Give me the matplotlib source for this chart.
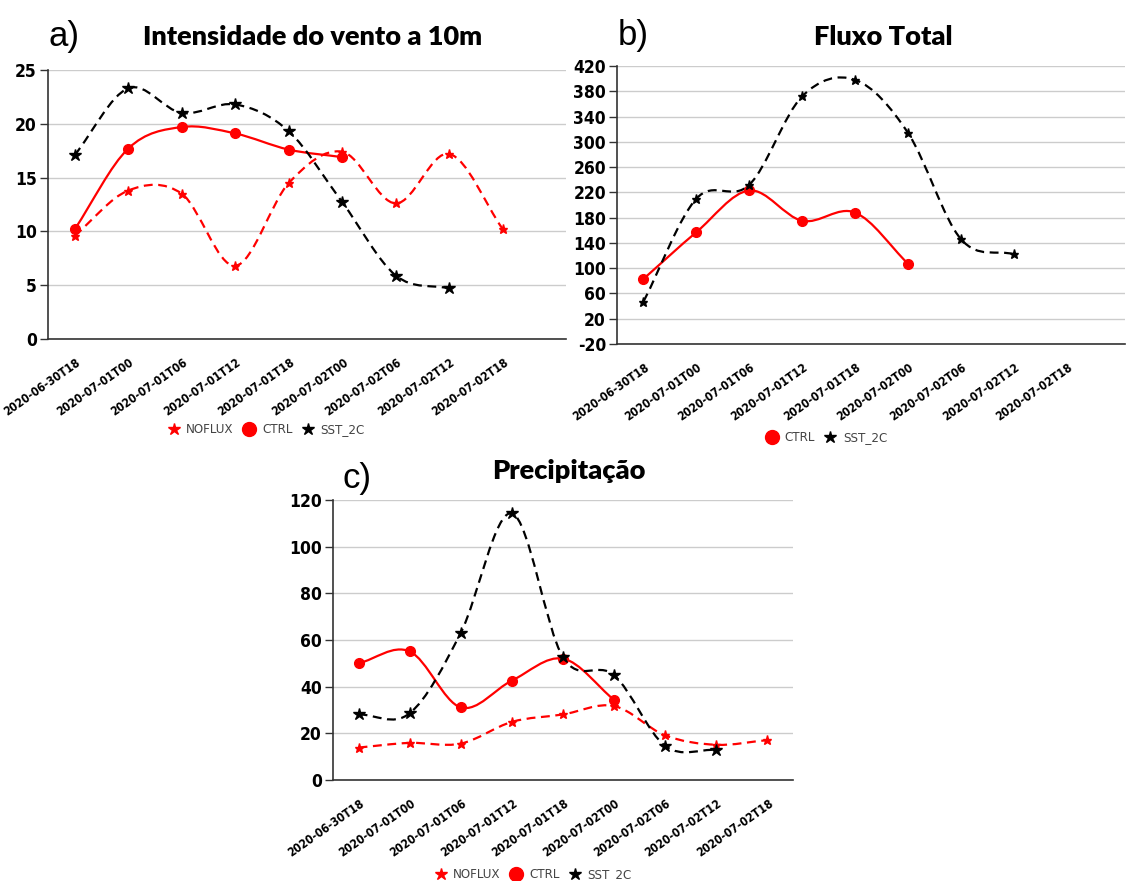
import matplotlib
matplotlib.use('Agg')
import matplotlib.pyplot as plt
from matplotlib.path import Path
from matplotlib.patches import PathPatch
from matplotlib.lines import Line2D
from matplotlib import font_manager
import matplotlib.transforms as mtransforms

# ---------------- data ----------------
categories = ['2020-06-30T18', '2020-07-01T00', '2020-07-01T06', '2020-07-01T12',
              '2020-07-01T18', '2020-07-02T00', '2020-07-02T06', '2020-07-02T12',
              '2020-07-02T18']

wind_noflux = [9.6, 13.8, 13.5, 6.8, 14.5, 17.4, 12.6, 17.2, 10.2]
wind_ctrl = [10.2, 17.7, 19.7, 19.1, 17.6, 16.9]
wind_sst = [17.1, 23.3, 21.0, 21.8, 19.3, 12.7, 5.9, 4.7]

flux_ctrl = [83, 157, 223, 175, 188, 107]
flux_sst = [47, 210, 232, 372, 398, 314, 146, 122]

prec_noflux = [13.9, 15.9, 15.6, 24.9, 28.1, 31.7, 19.1, 15.1, 17.1]
prec_ctrl = [50.0, 55.1, 31.1, 42.6, 52.0, 34.3]
prec_sst = [28.1, 28.6, 63.1, 114.3, 52.6, 44.9, 14.6, 12.9]

wind_ticks = [0, 5, 10, 15, 20, 25]
flux_ticks = [-20, 20, 60, 100, 140, 180, 220, 260, 300, 340, 380, 420]
prec_ticks = [0, 20, 40, 60, 80, 100, 120]

titles = ['Intensidade do vento a 10m', 'Fluxo Total', 'Precipitação']
panel_labels = ['a)', 'b)', 'c)']
series_names = ['NOFLUX', 'CTRL', 'SST_2C']

# ---------------- fonts ----------------
_names = {f.name for f in font_manager.fontManager.ttflist}
_condensed = {f.name for f in font_manager.fontManager.ttflist
              if str(f.stretch) in ('condensed', 'semi-condensed', 'extra-condensed', '75', '87.5')}
if 'Liberation Sans Narrow' in _names:
    NARROW = {'family': ['Liberation Sans Narrow', 'DejaVu Sans']}
    YT, XT, LG = 13, 10, 10.5
elif 'DejaVu Sans' in _condensed:
    NARROW = {'family': ['DejaVu Sans'], 'stretch': 'condensed'}
    YT, XT, LG = 12.5, 8.6, 9.5
else:
    NARROW = {'family': ['Liberation Sans', 'DejaVu Sans']}
    YT, XT, LG = 11.5, 9, 9.5

W, H = 1127, 881
TITLEF = ['Lato', 'DejaVu Sans']
RED = '#ff0000'
BLK = '#000000'
DASH = (0, (4, 2.5))

fig = plt.figure(figsize=(W / 100, H / 100), dpi=100)


def fx(px):
    return px / W


def fy(py):
    return 1 - py / H


def make_axes(l, r, t, b):
    return fig.add_axes([fx(l), fy(b), fx(r) - fx(l), (b - t) / H])


def smooth_path(ys):
    n = len(ys)
    m = []
    for i in range(n):
        if i == 0:
            m.append(ys[1] - ys[0])
        elif i == n - 1:
            m.append(ys[-1] - ys[-2])
        else:
            m.append((ys[i + 1] - ys[i - 1]) / 2)
    verts = [(0, ys[0])]
    codes = [Path.MOVETO]
    for i in range(n - 1):
        verts += [(i + 1 / 3, ys[i] + m[i] / 3),
                  (i + 1 - 1 / 3, ys[i + 1] - m[i + 1] / 3),
                  (i + 1, ys[i + 1])]
        codes += [Path.CURVE4] * 3
    return Path(verts, codes)


def draw_series(ax, ys, color, ls, marker, ms):
    patch = PathPatch(smooth_path(ys), fill=False, edgecolor=color, lw=1.6,
                      linestyle=ls, capstyle='butt', zorder=3)
    ax.add_patch(patch)
    ax.plot(range(len(ys)), ys, linestyle='none', marker=marker, ms=ms,
            color=color, mec=color, zorder=4)


def style(ax, ticks, xlim):
    ax.set_xlim(*xlim)
    ax.set_ylim(ticks[0], ticks[-1])
    ax.set_yticks(ticks)
    ax.yaxis.grid(True, color='#cccccc', lw=1)
    ax.set_axisbelow(True)
    for s in ['top', 'right']:
        ax.spines[s].set_visible(False)
    for s in ['left', 'bottom']:
        ax.spines[s].set_color('#333333')
        ax.spines[s].set_linewidth(1.2)
    ax.tick_params(axis='y', length=6, color='#333333', width=1, pad=2)
    ax.tick_params(axis='x', length=0, pad=12)
    ax.set_yticklabels([str(t) for t in ticks], fontweight='bold', fontsize=YT, **NARROW)
    ax.set_xticks(range(len(categories)))
    ax.set_xticklabels(categories, rotation=35, ha='right', va='top',
                       fontweight='bold', fontsize=XT, **NARROW)
    off = mtransforms.ScaledTranslation(8 / 100, 0, fig.dpi_scale_trans)
    for lab in ax.get_xticklabels():
        lab.set_transform(lab.get_transform() + off)


def legend(handles, labels, cx, cy):
    prop = dict(NARROW)
    prop['size'] = LG
    leg = fig.legend(handles, labels, loc='center', bbox_to_anchor=(fx(cx), fy(cy)),
                     ncol=len(handles), frameon=False, prop=prop,
                     handletextpad=0.45, columnspacing=0.7, handlelength=1.0)
    for t in leg.get_texts():
        t.set_color('#444444')


h_noflux = Line2D([], [], ls='none', marker='*', color=RED, ms=9)
h_ctrl = Line2D([], [], ls='none', marker='o', color=RED, ms=10)
h_sst = Line2D([], [], ls='none', marker='*', color=BLK, ms=9)

TKW = dict(ha='center', va='baseline', fontsize=19.5, fontweight='heavy', family=TITLEF)
PKW = dict(ha='left', va='baseline', fontsize=25, family=['Liberation Sans', 'DejaVu Sans'])

# ---------------- panel a ----------------
ax = make_axes(48, 566, 70, 339)
draw_series(ax, wind_noflux, RED, DASH, '*', 6.5)
draw_series(ax, wind_ctrl, RED, '-', 'o', 7)
draw_series(ax, wind_sst, BLK, DASH, '*', 9)
style(ax, wind_ticks, (-0.5, 9.18))
legend([h_noflux, h_ctrl, h_sst], series_names, 266, 430)
fig.text(fx(313), fy(45), titles[0], **TKW)
fig.text(fx(48), fy(46), panel_labels[0], **PKW)

# ---------------- panel b ----------------
ax = make_axes(617, 1125, 66, 344)
draw_series(ax, flux_ctrl, RED, '-', 'o', 7)
draw_series(ax, flux_sst, BLK, DASH, '*', 6.5)
style(ax, flux_ticks, (-0.5, 9.1))
legend([h_ctrl, h_sst], series_names[1:], 826, 438)
fig.text(fx(883), fy(45), titles[1], **TKW)
fig.text(fx(618), fy(45), panel_labels[1], **PKW)

# ---------------- panel c ----------------
ax = make_axes(333, 793, 500, 780)
draw_series(ax, prec_noflux, RED, DASH, '*', 6.5)
draw_series(ax, prec_ctrl, RED, '-', 'o', 7)
draw_series(ax, prec_sst, BLK, DASH, '*', 9)
style(ax, prec_ticks, (-0.5, 8.5))
legend([h_noflux, h_ctrl, h_sst], series_names, 533, 875)
fig.text(fx(569), fy(479), titles[2], **TKW)
fig.text(fx(343), fy(488), panel_labels[2], **PKW)

fig.savefig('out.png', dpi=100)
